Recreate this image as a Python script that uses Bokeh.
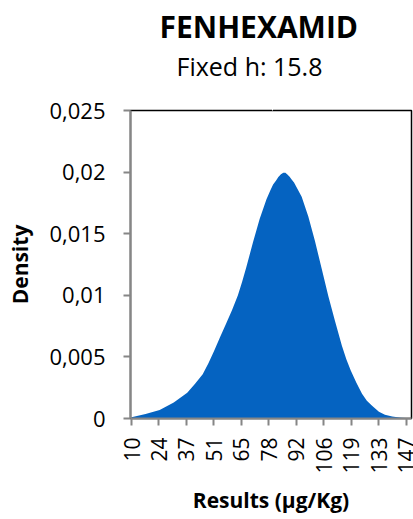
import math

from bokeh.embed import file_html
from bokeh.models import (CustomJSTickFormatter, FixedTicker, LinearAxis,
                          Range1d, Title)
from bokeh.plotting import figure
from bokeh.resources import INLINE

# Kernel density estimate of FENHEXAMID results (µg/Kg), bandwidth h = 15.8
result_x = [10, 17, 24, 31, 37.7, 41.5, 45.4, 48.3, 51.1, 54, 57, 60, 62.9,
            65, 67.1, 70.4, 73.7, 77.1, 79, 80.4, 81.8, 83, 84.3, 85.5, 86.5,
            87.5, 88.6, 89.6, 90.8, 92, 94.6, 97.9, 101.2, 104.5, 107.9,
            111.2, 114.6, 116.8, 119, 121.8, 124.6, 127, 129.6, 133, 136,
            139.6, 144, 149]
density = [0.0001, 0.00036, 0.00068, 0.0013, 0.0021, 0.0028, 0.0036, 0.0045,
           0.0055, 0.0066, 0.0077, 0.0088, 0.0100, 0.0111, 0.0123, 0.0143,
           0.0162, 0.0178, 0.0185, 0.0190, 0.0193, 0.0196, 0.01982, 0.01995,
           0.01995, 0.0198, 0.01962, 0.0194, 0.01915, 0.0188, 0.0180, 0.0164,
           0.0144, 0.0122, 0.0099, 0.0079, 0.0059, 0.0048, 0.0039, 0.0029,
           0.0020, 0.00145, 0.00103, 0.00055, 0.0003, 0.00016, 0.00006,
           0.00002]

x_tick_values = [10, 23.66, 37.32, 50.98, 64.64, 78.3, 91.96, 105.62, 119.28,
                 132.94, 146.6]
x_tick_labels = ["10", "24", "37", "51", "65", "78", "92", "106", "119", "133",
                 "147"]
y_tick_values = [0, 0.005, 0.01, 0.015, 0.02, 0.025]

title_text = "FENHEXAMID"
subtitle_text = "Fixed h: 15.8"
x_label = "Results (µg/Kg)"
y_label = "Density"

FONT = "Open Sans"
AXIS_GREY = "#868686"
FILL = "#0563C1"

p = figure(
    frame_width=281, frame_height=308,
    min_border_left=130, min_border_right=2,
    min_border_top=110, min_border_bottom=101,
    x_range=Range1d(9.5, 149.2), y_range=Range1d(0, 0.025),
    output_backend="svg", toolbar_location=None,
)
p.title.visible = False
p.grid.visible = False
p.outline_line_color = "black"
p.outline_line_width = 1.5
p.background_fill_color = "white"
p.border_fill_color = "white"

p.varea(x=result_x, y1=0, y2=density, fill_color=FILL)

# x axis
xa = p.xaxis[0]
xa.ticker = FixedTicker(ticks=x_tick_values)
xa.major_label_overrides = dict(zip(x_tick_values, x_tick_labels))
xa.major_label_orientation = math.pi / 2
xa.major_label_text_font = FONT
xa.major_label_text_font_size = "21px"
xa.major_label_text_color = "black"
xa.major_label_standoff = 12
xa.axis_line_color = AXIS_GREY
xa.axis_line_width = 2
xa.major_tick_line_color = AXIS_GREY
xa.major_tick_line_width = 2
xa.major_tick_out = 7
xa.major_tick_in = 0
xa.minor_tick_line_color = None
xa.axis_label = x_label
xa.axis_label_text_font = FONT
xa.axis_label_text_font_style = "bold"
xa.axis_label_text_font_size = "21px"
xa.axis_label_text_color = "black"
xa.axis_label_standoff = 9

# y axis
ya = p.yaxis[0]
ya.ticker = FixedTicker(ticks=y_tick_values)
ya.formatter = CustomJSTickFormatter(
    code="return String(Math.round(tick * 1000) / 1000).replace('.', ',')")
ya.major_label_text_font = FONT
ya.major_label_text_font_size = "22px"
ya.major_label_text_color = "black"
ya.major_label_standoff = 18
ya.axis_line_color = AXIS_GREY
ya.axis_line_width = 2
ya.major_tick_line_color = AXIS_GREY
ya.major_tick_line_width = 2
ya.major_tick_out = 7
ya.major_tick_in = 0
ya.minor_tick_line_color = None
ya.axis_label = y_label
ya.axis_label_text_font = FONT
ya.axis_label_text_font_style = "bold"
ya.axis_label_text_font_size = "21px"
ya.axis_label_text_color = "black"
ya.axis_label_standoff = 12

# blank band between the frame and the subtitle: a top axis whose single
# tick is drawn white on the white border and carries no label
gap = LinearAxis(ticker=FixedTicker(ticks=[80]), axis_line_color=None,
                 major_tick_line_color="white", major_tick_line_width=1,
                 minor_tick_line_color=None, major_tick_out=28,
                 major_tick_in=0, major_label_standoff=0,
                 major_label_overrides={80: ""},
                 axis_label=None, axis_label_standoff=0)
p.add_layout(gap, "above")

# subtitle next to that band, the main title above it
p.add_layout(Title(text=subtitle_text, text_font=FONT, text_font_size="25px",
                   text_font_style="normal", text_color="black",
                   align="left", offset=46, standoff=0), "above")
p.add_layout(Title(text=title_text, text_font=FONT, text_font_size="30px",
                   text_font_style="bold", text_color="black",
                   align="left", offset=29, standoff=0), "above")

open("out.html", "w").write(file_html(p, INLINE))
